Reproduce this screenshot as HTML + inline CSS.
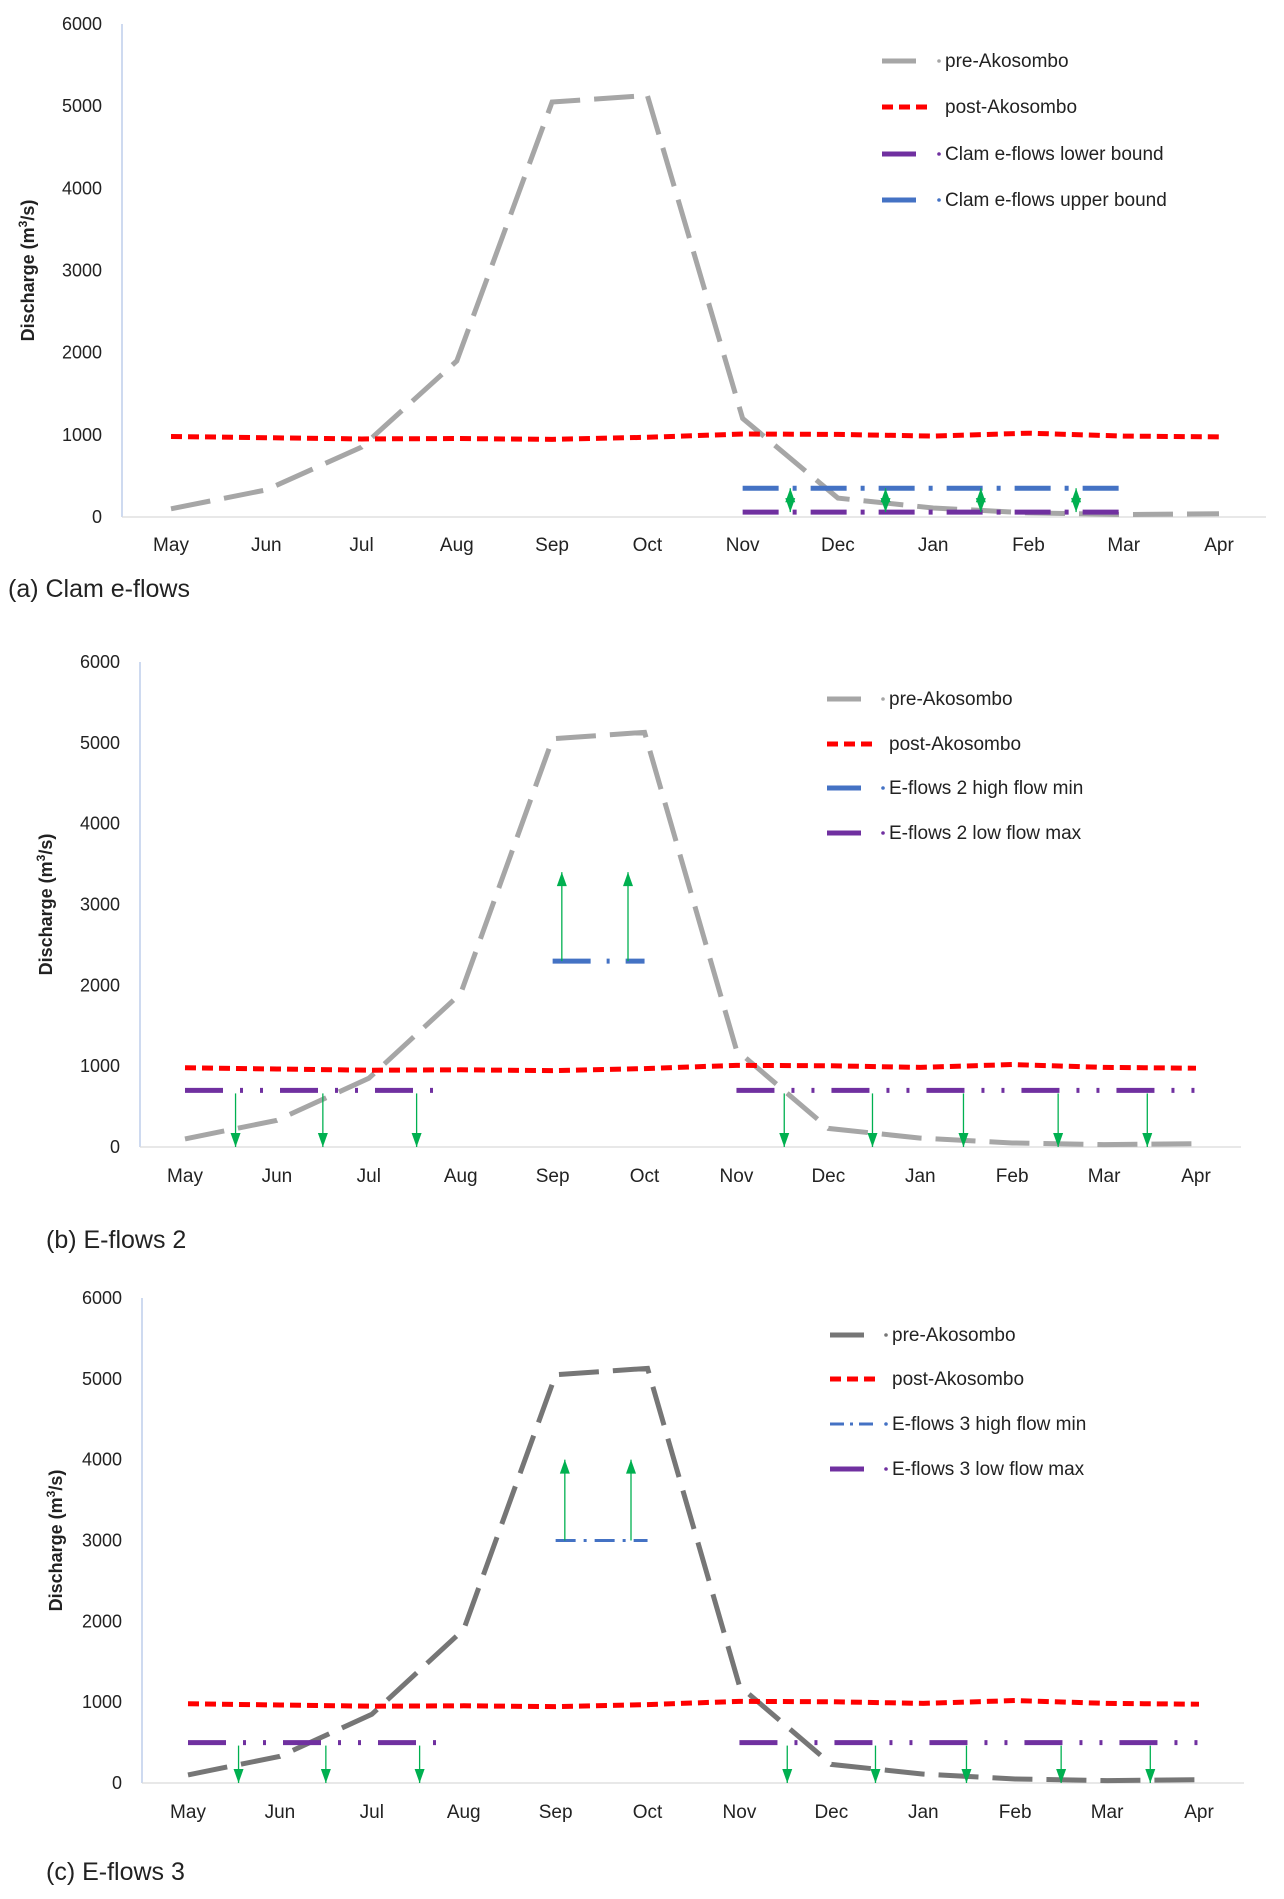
<!DOCTYPE html>
<html><head><meta charset="utf-8"><style>
body{margin:0;background:#fff;width:1284px;height:1899px;overflow:hidden}
svg{display:block}
text{font-family:"Liberation Sans Narrow","Liberation Sans",sans-serif;fill:#222}
</style></head><body>
<svg id="svg" width="1284" height="1899" viewBox="0 0 1284 1899"></svg>
<script>
const months = ["May","Jun","Jul","Aug","Sep","Oct","Nov","Dec","Jan","Feb","Mar","Apr"];
const yTicks = [0,1000,2000,3000,4000,5000,6000];
const preAkosombo = [100,330,850,1900,5050,5130,1200,230,110,50,30,40];
const postAkosombo = [980,965,950,955,945,970,1010,1005,985,1020,985,975];
const clamLower = 60, clamUpper = 350;
const clamArrowPos = [6.5,7.5,8.5,9.5];
const e2High = 2300, e2HighTop = 3400, e3High = 3000, e3HighTop = 4000;
const e2Low = 700, e3Low = 500;
const highArrowPos = [4.1,4.82];
const lowArrowPos = [0.55,1.5,2.52,6.52,7.48,8.47,9.5,10.47];

const svg=document.getElementById('svg');
const NS='http://www.w3.org/2000/svg';
function mk(tag,attrs,parent){const e=document.createElementNS(NS,tag);for(const k in attrs)e.setAttribute(k,attrs[k]);(parent||svg).appendChild(e);return e;}

const panels=[
 {ax:122,top:24,bot:517,x0:171,x1:1219,right:1266,lab:545,cap:597,capx:8,capText:"(a) Clam e-flows",
  leg:{l0:882,l1:924,tx:945,rows:[61,107,154,200]},preColor:"#a6a6a6",type:"a",
  names:["pre-Akosombo","post-Akosombo","Clam e-flows lower bound","Clam e-flows upper bound"],titleX:34},
 {ax:140,top:662,bot:1147,x0:185,x1:1196,right:1241,lab:1176,cap:1248,capx:46,capText:"(b) E-flows 2",
  leg:{l0:827,l1:868,tx:889,rows:[699,744,788,833]},preColor:"#a6a6a6",type:"b",
  names:["pre-Akosombo","post-Akosombo","E-flows 2 high flow min","E-flows 2 low flow max"],titleX:52},
 {ax:142,top:1298,bot:1783,x0:188,x1:1199,right:1244,lab:1812,cap:1880,capx:46,capText:"(c) E-flows 3",
  leg:{l0:830,l1:871,tx:892,rows:[1335,1379,1424,1469]},preColor:"#767676",type:"c",
  names:["pre-Akosombo","post-Akosombo","E-flows 3 high flow min","E-flows 3 low flow max"],titleX:62}
];

function arrow(g,x,y1,y2,dbl){
 const l=mk('line',{x1:x,y1:y1,x2:x,y2:y2,stroke:'#00b050','stroke-width':1.3},g);
 
 const d=y2>y1?1:-1;
 const h=mk('polygon',{points:`${x-5},${y2-d*14} ${x+5},${y2-d*14} ${x},${y2}`,fill:'#00b050'},g);
 
 if(dbl){const h2=mk('polygon',{points:`${x-5},${y1+d*14} ${x+5},${y1+d*14} ${x},${y1}`,fill:'#00b050'},g);
 }
}

panels.forEach((p,pi)=>{
 const g=mk('g',{});
 
 const xs=i=>p.x0+(p.x1-p.x0)*i/(months.length-1);
 const ys=v=>p.bot-(p.bot-p.top)*v/6000;
 const ax=mk('line',{x1:p.ax,y1:p.top,x2:p.ax,y2:p.bot,stroke:'#b4c7e7','stroke-width':1.3},g);
 
 const bx=mk('line',{x1:p.ax,y1:p.bot,x2:p.right,y2:p.bot,stroke:'#d9d9d9','stroke-width':1.3},g);
 
 yTicks.forEach(t=>{const e=mk('text',{x:p.ax-20,y:ys(t)+6,'text-anchor':'end','font-size':18},g);e.textContent=t;
  });
 months.forEach((m,i)=>{const e=mk('text',{x:xs(i),y:p.lab+6,'text-anchor':'middle','font-size':19},g);e.textContent=m;
  });
 const cy=(p.top+p.bot)/2;
 const tt=mk('text',{x:p.titleX,y:cy,transform:`rotate(-90 ${p.titleX} ${cy})`,'text-anchor':'middle','font-size':18,'font-weight':'bold',style:'font-family:"Liberation Sans",sans-serif'},g);
 tt.innerHTML='Discharge (m<tspan baseline-shift="super" font-size="12">3</tspan>/s)';
 
 const cap=mk('text',{x:p.capx,y:p.cap,'font-size':25},g);cap.textContent=p.capText;
 

 const pre=mk('polyline',{points:preAkosombo.map((v,i)=>xs(i)+','+ys(v)).join(' '),fill:'none',stroke:p.preColor,'stroke-width':5,'stroke-dasharray':'40 14'},g);
 
 const post=mk('polyline',{points:postAkosombo.map((v,i)=>xs(i)+','+ys(v)).join(' '),fill:'none',stroke:'#ff0000','stroke-width':5,'stroke-dasharray':'11 6'},g);
 

 const dashDot='36 14 4 14';
 const purple='#7030a0',blue='#4472c4';
 if(p.type==='a'){
  const lo=mk('line',{x1:xs(6),y1:ys(clamLower),x2:xs(10),y2:ys(clamLower),stroke:purple,'stroke-width':5,'stroke-dasharray':dashDot},g);
  
  const hi=mk('line',{x1:xs(6),y1:ys(clamUpper),x2:xs(10),y2:ys(clamUpper),stroke:blue,'stroke-width':5,'stroke-dasharray':dashDot},g);
  
  clamArrowPos.forEach(a=>arrow(g,xs(a),ys(clamLower),ys(clamUpper),true));
 } else {
  const hv=p.type==='b'?e2High:e3High, ht=p.type==='b'?e2HighTop:e3HighTop, lv=p.type==='b'?e2Low:e3Low;
  const hi=mk('line',{x1:xs(4),y1:ys(hv),x2:xs(5),y2:ys(hv),stroke:blue,'stroke-width':p.type==='b'?5:3,'stroke-dasharray':p.type==='b'?'38 16 3 16':'20 8 3 8'},g);
  
  [[0,2.85],[6,11]].forEach(([a,b])=>{
   const lo=mk('line',{x1:xs(a),y1:ys(lv),x2:xs(b),y2:ys(lv),stroke:purple,'stroke-width':5,'stroke-dasharray':'38 17 3 17 3 17'},g);
   
  });
  highArrowPos.forEach(a=>arrow(g,xs(a),ys(hv),ys(ht),false));
  lowArrowPos.forEach(a=>arrow(g,xs(a),ys(lv)+3,ys(0),false));
 }

 const L=p.leg;
 const styles=[
  {c:p.preColor,w:5,d:'34 12'},
  {c:'#ff0000',w:5,d:'11 6'},
  p.type==='a'?{c:purple,w:5,d:'34 12'}:{c:blue,w:p.type==='b'?5:3,d:p.type==='b'?'34 12':'14 6 3 6'},
  p.type==='a'?{c:blue,w:5,d:'34 12'}:{c:purple,w:5,d:'34 12'}
 ];
 p.names.forEach((n,i)=>{
  const y=L.rows[i];
  const lg=mk('g',{},g);
  
  mk('line',{x1:L.l0,y1:y,x2:L.l1+4,y2:y,stroke:styles[i].c,'stroke-width':styles[i].w,'stroke-dasharray':styles[i].d},lg);
  if(i!==1) mk('circle',{cx:L.tx-6,cy:y,r:1.8,fill:styles[i].c},lg);
  const t=mk('text',{x:L.tx,y:y+6,'font-size':19},lg);t.textContent=n;
 });
});
</script>
</body></html>
